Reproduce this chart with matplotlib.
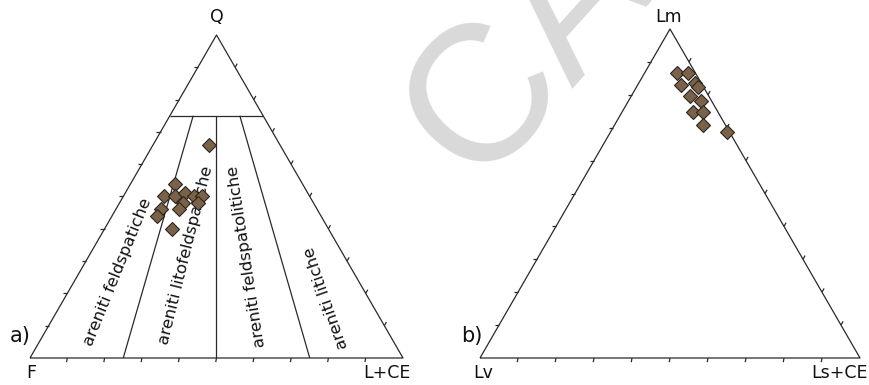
import numpy as np
import matplotlib
matplotlib.use("Agg")
import matplotlib.pyplot as plt

# ---------------- data ----------------
# Diagram a) QFL (percent)
qfl_Q = [66, 54, 50, 50, 51, 50, 50, 48, 48, 46, 46, 44, 40]
qfl_L = [15, 12, 11, 14, 16, 19, 21, 17, 21, 12, 17, 12, 18]
qfl_F = [100 - q - l for q, l in zip(qfl_Q, qfl_L)]

# Diagram b) LmLvLs (percent)
lm_Lm = [86.5, 86.7, 83.0, 83.5, 82.3, 79.7, 78.1, 74.9, 74.9, 70.8, 68.8]
lm_Ls = [8.7, 11.5, 11.3, 14.7, 16.3, 15.4, 19.0, 18.7, 21.2, 23.4, 30.7]
lm_Lv = [100 - a - b for a, b in zip(lm_Lm, lm_Ls)]

# classification fields (diagram a)
q_limit = 75                      # Q % of the quartzarenite field
l_ratios = [25, 50, 75]           # L/(F+L) % boundaries
field_names = ["areniti feldspatiche", "areniti litofeldspatiche",
               "areniti feldspatolitiche", "areniti litiche"]

apex_a = ["Q", "F", "L+CE"]
apex_b = ["Lm", "Lv", "Ls+CE"]
panel_tags = ["a)", "b)"]

H = np.sqrt(3) / 2


def tern(top, right):
    """top & right fractions -> cartesian (base from left vertex (0,0) to right vertex (1,0))."""
    top = np.asarray(top, float)
    right = np.asarray(right, float)
    return right + top / 2, top * H


fig = plt.figure(figsize=(8.7, 3.85), dpi=100)
W, HH = 870, 385

# watermark
fig.text(0.607, 0.865, "CA", fontsize=140, color="#d9d9d9", rotation=48,
         ha="center", va="center", family="Liberation Sans", zorder=0)

ax_a = fig.add_axes([30 / W, 27 / HH, 373 / W, 323 / HH])
ax_b = fig.add_axes([480 / W, 27 / HH, 380 / W, 329 / HH])

line_kw = dict(color="#2a2a2a", lw=0.9, solid_capstyle="butt")
font = "DejaVu Sans"

for ax in (ax_a, ax_b):
    ax.set_xlim(0, 1)
    ax.set_ylim(0, H)
    ax.axis("off")
    ax.patch.set_alpha(0)
    ax.plot([0, 1, 0.5, 0], [0, 0, H, 0], clip_on=False, **line_kw)
    tl = 0.011
    for t in np.arange(1, 10) / 10:
        # bottom edge ticks
        ax.plot([t, t - 0.002], [0, -tl], clip_on=False, **line_kw)
        # left edge ticks
        x, y = t / 2, t * H
        ax.plot([x, x - tl], [y, y], clip_on=False, **line_kw)
        # right edge ticks
        x, y = 1 - t / 2, t * H
        ax.plot([x, x + tl * 0.5], [y, y + tl * 0.9], clip_on=False, **line_kw)

# ---- panel a fields ----
qf = q_limit / 100
x0, y0 = tern(qf, 0)
x1, y1 = tern(qf, 1 - qf)
ax_a.plot([x0, x1], [y0, y1], **line_kw)
for r in l_ratios:
    r = r / 100
    xa, ya = tern(qf, (1 - qf) * r)
    xb, yb = tern(0, r)
    ax_a.plot([xa, xb], [ya, yb], **line_kw)

label_pos = [(0.236, 0.231, 68), (0.418, 0.276, 76),
             (0.582, 0.273, 98.7), (0.794, 0.161, 109)]
for name, (x, y, rot) in zip(field_names, label_pos):
    ax_a.text(x, y, name, rotation=rot, ha="center", va="center",
              fontsize=11.8, family=font, color="#111111", rotation_mode="anchor")

mk = dict(marker="D", ms=7.2, mfc="#7a6248", mec="#2a2420", mew=0.8,
          ls="none", clip_on=False, zorder=5)

xs, ys = tern(np.array(qfl_Q) / 100, np.array(qfl_L) / 100)
for x, y in zip(xs, ys):
    ax_a.plot(x, y, **mk)

xs, ys = tern(np.array(lm_Lm) / 100, np.array(lm_Ls) / 100)
for x, y in zip(xs, ys):
    ax_b.plot(x, y, **mk)

# apex labels
tk = dict(fontsize=12.5, family=font, color="#111111", ha="center", va="center")
ax_a.text(0.5, 0.914, apex_a[0], **tk)
ax_a.text(0.003, -0.040, apex_a[1], **tk)
ax_a.text(0.957, -0.040, apex_a[2], **tk)
ax_a.text(-0.027, 0.058, panel_tags[0], fontsize=15, family=font,
          ha="center", va="center", color="#111111")

ax_b.text(0.497, 0.897, apex_b[0], **tk)
ax_b.text(0.008, -0.039, apex_b[1], **tk)
ax_b.text(0.945, -0.039, apex_b[2], **tk)
ax_b.text(-0.021, 0.057, panel_tags[1], fontsize=15, family=font,
          ha="center", va="center", color="#111111")

fig.savefig("out.png", dpi=100)
